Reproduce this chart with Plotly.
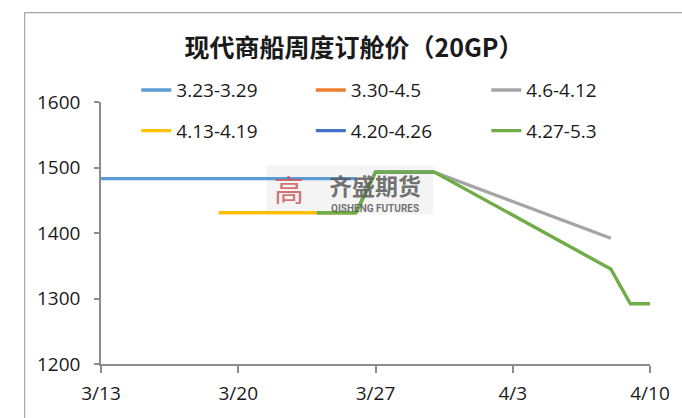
import plotly.graph_objects as go

# ---- data ----
series_names = ["3.23-3.29", "3.30-4.5", "4.6-4.12", "4.13-4.19", "4.20-4.26", "4.27-5.3"]
series_colors = ["#5B9BD5", "#ED7D31", "#A5A5A5", "#FFC000", "#4472C4", "#70AD47"]

blue_dates = ["2020-03-13", "2020-03-26"]
blue_vals = [1483, 1483]

orange_dates = ["2020-03-24", "2020-03-26"]
orange_vals = [1431, 1431]

gray_dates = ["2020-03-27", "2020-03-30", "2020-04-08"]
gray_vals = [1493, 1493, 1392]

yellow_dates = ["2020-03-19", "2020-03-24"]
yellow_vals = [1431, 1431]

navy_dates = ["2020-03-26", "2020-03-27", "2020-03-30"]
navy_vals = [1431, 1493, 1493]

green_dates = ["2020-03-24", "2020-03-26", "2020-03-27", "2020-03-30", "2020-04-08", "2020-04-09", "2020-04-10"]
green_vals = [1431, 1431, 1493, 1493, 1345, 1292, 1292]

title_text = "现代商船周度订舱价（20GP）"
y_ticks = [1200, 1300, 1400, 1500, 1600]

all_x = [blue_dates, orange_dates, gray_dates, yellow_dates, navy_dates, green_dates]
all_y = [blue_vals, orange_vals, gray_vals, yellow_vals, navy_vals, green_vals]

FONT = "Open Sans"
legend_ids = ["legend", "legend2", "legend3", "legend4", "legend5", "legend6"]
leg_x = [(137 - 101) / 560, (315 - 101) / 560, (494 - 101) / 560]
leg_y = [(366 - 90) / 264, (366 - 131) / 264]

fig = go.Figure()
layout_legends = {}
for i, (name, col, xs, ys) in enumerate(zip(series_names, series_colors, all_x, all_y)):
    fig.add_trace(go.Scatter(
        x=xs, y=ys, mode="lines", name=name,
        line=dict(color=col, width=3.4),
        legend=legend_ids[i],
    ))
    layout_legends[legend_ids[i]] = dict(
        x=leg_x[i % 3], y=leg_y[i // 3], xanchor="left", yanchor="middle",
        orientation="h", bgcolor="rgba(0,0,0,0)",
        font=dict(family=FONT, size=19, color="#1a1a1a"))

fig.update_layout(
    width=682, height=418,
    margin=dict(l=101, r=21, t=102, b=52),
    paper_bgcolor="white", plot_bgcolor="white",
    showlegend=True,
    title=dict(text="<b>" + title_text + "</b>", xref="container", x=354 / 682,
               xanchor="center", y=1 - 48 / 418, yanchor="middle",
               font=dict(family="Noto Sans CJK SC", size=25, color="#1a1a1a")),
    xaxis=dict(type="date", range=["2020-03-13", "2020-04-10"],
               tick0="2020-03-13", dtick=7 * 86400000, tickformat="%-m/%-d",
               showgrid=False, showline=True, linecolor="#8c8c8c", linewidth=1.5,
               ticks="outside", ticklen=7, tickcolor="#8c8c8c", tickwidth=1.5,
               ticklabelstandoff=4,
               tickfont=dict(family=FONT, size=19, color="#1a1a1a"), zeroline=False),
    yaxis=dict(range=[1200, 1600], tickvals=y_ticks,
               showgrid=False, showline=True, linecolor="#8c8c8c", linewidth=1.5,
               ticks="outside", ticklen=5, tickcolor="#8c8c8c", tickwidth=1.5,
               ticklabelstandoff=10,
               tickfont=dict(family=FONT, size=19, color="#1a1a1a"), zeroline=False),
    **layout_legends,
)

# outer chart border
fig.add_shape(type="rect", xref="paper", yref="paper", x0=-0.139, x1=1.2, y0=-0.4, y1=1.341,
              line=dict(color="#a6a6a6", width=1.2), layer="below")

# watermark
fig.add_shape(type="rect", xref="paper", yref="paper", x0=(270 - 101) / 560, x1=(440 - 101) / 560,
              y0=(366 - 215) / 264, y1=(366 - 166) / 264,
              fillcolor="rgba(228,228,228,0.4)", line=dict(width=0), layer="below")
fig.add_annotation(xref="paper", yref="paper", x=(293 - 101) / 560, y=(366 - 189) / 264,
                   yanchor="middle", text="高", showarrow=False,
                   font=dict(family="Noto Sans CJK SC", size=30, color="rgba(200,80,80,0.8)"))
fig.add_annotation(xref="paper", yref="paper", x=(380 - 101) / 560, y=(366 - 186) / 264,
                   yanchor="middle", text="齐盛期货", showarrow=False,
                   font=dict(family="Noto Sans CJK SC", size=23, color="rgba(90,90,90,0.85)", weight=700))
fig.add_annotation(xref="paper", yref="paper", x=(380 - 101) / 560, y=(366 - 209) / 264,
                   yanchor="middle", text="<b>QISHENG FUTURES</b>", showarrow=False,
                   font=dict(family="Roboto", size=10, color="rgba(90,90,90,0.85)"))

fig.write_html("out.html", post_script="document.body.style.margin='0px';",
               config={"displayModeBar": False})
